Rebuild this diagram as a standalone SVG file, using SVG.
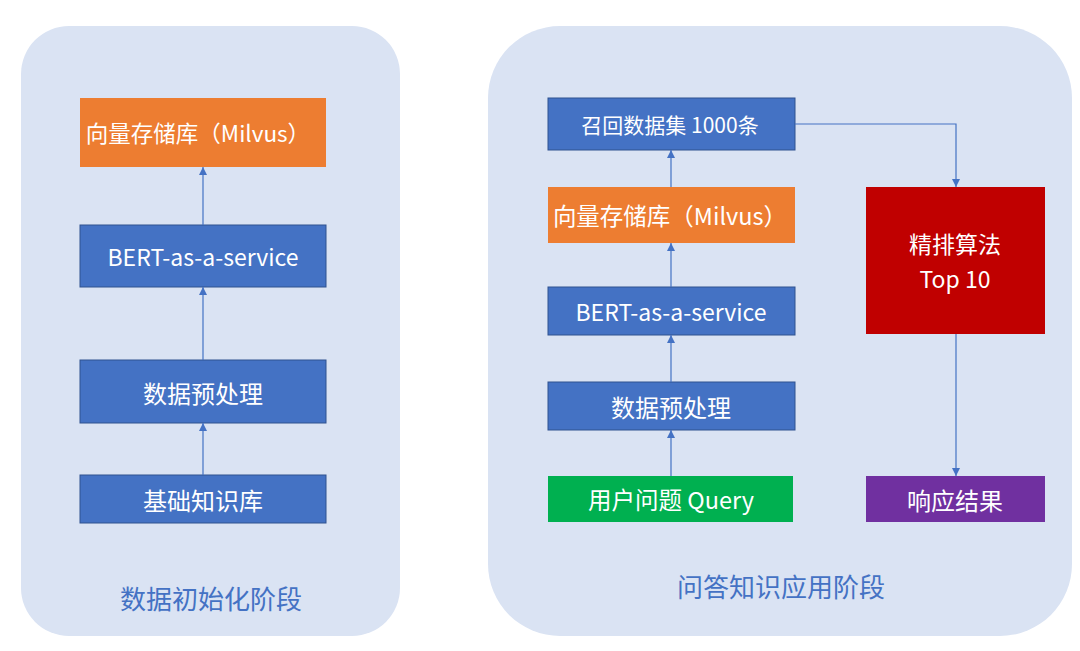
<svg xmlns="http://www.w3.org/2000/svg" width="1080" height="651" viewBox="0 0 1080 651">
<defs>
<marker id="ah" viewBox="0 0 10 10" refX="10" refY="5" markerWidth="8" markerHeight="8" markerUnits="userSpaceOnUse" orient="auto"><path d="M0,0 L10,5 L0,10 z" fill="#4472C4"/></marker>
<style>
.panel{fill:#DAE3F3}
.blue{fill:#4472C4;stroke:#2F528F;stroke-width:1}
.orange{fill:#ED7D31}
.green{fill:#00B050}
.red{fill:#C00000}
.purple{fill:#7030A0}
.t{font-family:"Noto Sans CJK SC","Noto Sans",sans-serif;fill:#fff;text-anchor:middle;dominant-baseline:central}
.title{font-family:"Noto Sans CJK SC","Noto Sans",sans-serif;fill:#4472C4;text-anchor:middle;dominant-baseline:central;font-size:26px}
.c{stroke:#4472C4;stroke-width:1.2;fill:none;marker-end:url(#ah)}
</style>
</defs>
<rect width="1080" height="651" fill="#fff"/>
<g id="panel-left"><rect class="panel" x="21" y="26" width="379" height="610" rx="48"/><text class="title" x="211" y="597">数据初始化阶段</text></g>
<g id="panel-right"><rect class="panel" x="488" y="26" width="584" height="610" rx="72"/><text class="title" x="781" y="585">问答知识应用阶段</text></g>
<g id="l-milvus"><rect class="orange" x="80" y="98" width="246" height="69"/><text class="t" x="198" y="132" font-size="22.5">向量存储库（Milvus）</text></g>
<g id="l-bert"><rect class="blue" x="80" y="225" width="246" height="62"/><text class="t" x="203" y="256" font-size="23">BERT-as-a-service</text></g>
<g id="l-pre"><rect class="blue" x="80" y="360" width="246" height="63"/><text class="t" x="203" y="392" font-size="24">数据预处理</text></g>
<g id="l-kb"><rect class="blue" x="80" y="475" width="246" height="48"/><text class="t" x="203" y="499" font-size="24">基础知识库</text></g>
<g id="r-recall"><rect class="blue" x="548" y="98" width="247" height="52"/><text class="t" x="670" y="124" font-size="21">召回数据集 1000条</text></g>
<g id="r-milvus"><rect class="orange" x="548" y="187" width="247" height="56"/><text class="t" x="670" y="215" font-size="23.5">向量存储库（Milvus）</text></g>
<g id="r-bert"><rect class="blue" x="548" y="287" width="247" height="48"/><text class="t" x="671" y="311" font-size="23">BERT-as-a-service</text></g>
<g id="r-pre"><rect class="blue" x="548" y="382" width="247" height="48"/><text class="t" x="671" y="406" font-size="24">数据预处理</text></g>
<g id="r-query"><rect class="green" x="548" y="476" width="245" height="46"/><text class="t" x="671" y="499" font-size="23.5">用户问题 Query</text></g>
<g id="r-rank"><rect class="red" x="866" y="187" width="179" height="147"/><text class="t" x="955" y="243" font-size="23">精排算法</text><text class="t" x="955" y="278" font-size="23">Top 10</text></g>
<g id="r-result"><rect class="purple" x="866" y="476" width="179" height="46"/><text class="t" x="955" y="499" font-size="24">响应结果</text></g>
<g id="connectors">
<line class="c" x1="203" y1="225" x2="203" y2="167"/>
<line class="c" x1="203" y1="360" x2="203" y2="287"/>
<line class="c" x1="203" y1="475" x2="203" y2="423"/>
<line class="c" x1="671" y1="187" x2="671" y2="150"/>
<line class="c" x1="671" y1="287" x2="671" y2="243"/>
<line class="c" x1="671" y1="382" x2="671" y2="335"/>
<line class="c" x1="671" y1="476" x2="671" y2="430"/>
<polyline class="c" points="795,124 956,124 956,187"/>
<line class="c" x1="956" y1="334" x2="956" y2="476"/>
</g>
</svg>
